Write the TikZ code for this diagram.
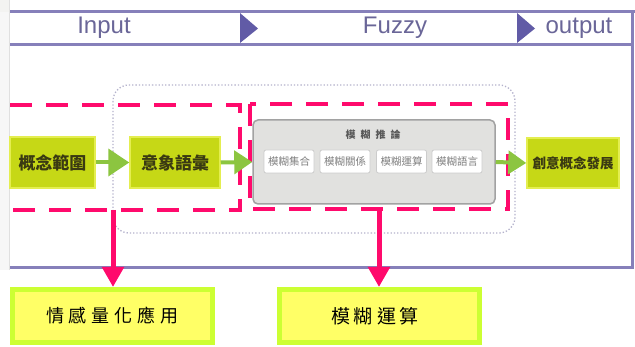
\documentclass[tikz,border=0pt]{standalone}
\usepackage{fontspec}
\setmainfont{Liberation Sans}
\newfontfamily\cjk{Noto Sans CJK TC}
\usetikzlibrary{arrows.meta}
\definecolor{hdr}{HTML}{8680BA}
\definecolor{hdrdark}{HTML}{615BA6}
\definecolor{hdrtext}{HTML}{6A6698}
\definecolor{pinkc}{HTML}{FF0A6C}
\definecolor{gfill}{HTML}{C6D816}
\definecolor{gedge}{HTML}{E4EE50}
\definecolor{gtext}{HTML}{3A3A12}
\definecolor{garrow}{HTML}{8CC540}
\definecolor{dotc}{HTML}{B4B2CC}
\definecolor{boxfill}{HTML}{E1E1DF}
\definecolor{boxedge}{HTML}{A2A2A2}
\definecolor{yfill}{HTML}{FFFF66}
\definecolor{yedge}{HTML}{CCFF33}
\tikzset{
  hdrline/.style={draw=hdr,line width=3.5pt},
  hdrtri/.style={fill=hdrdark},
  hdrlabel/.style={text=hdrtext,font=\fontsize{24}{26}\selectfont,inner sep=0pt},
  pinkbox/.style={draw=pinkc,line width=4.5pt,dash pattern=on 22pt off 14pt},
  pinkarrow/.style={draw=pinkc,line width=5pt,-{Triangle[width=21pt,length=20pt]}},
  greenbox/.style={fill=gfill,draw=gedge,line width=1.5pt,text=gtext,inner sep=0pt,
    font=\cjk\bfseries\fontsize{17}{19}\selectfont},
  garr/.style={draw=garrow,line width=4pt},
  minibox/.style={fill=white,draw=black!20,rounded corners=2pt,line width=0.8pt,
    minimum width=50pt,minimum height=23pt,inner sep=0pt,text=black!50,
    font=\cjk\fontsize{10.5}{12}\selectfont},
  ybox/.style={fill=yfill,draw=yedge,line width=5pt,inner sep=0pt,
    font=\cjk\fontsize{18}{20}\selectfont}
}
\begin{document}
\begin{tikzpicture}[x=1pt,y=-1pt]
\useasboundingbox (0,0) rectangle (635,347);
\fill[white] (0,0) rectangle (635,347);
% faint spreadsheet column at far left
\fill[black!3] (0,0) rectangle (9,270);
\fill[yellow!12!black!6] (0,0) rectangle (9,12);
\draw[black!12,line width=0.6pt] (9.5,0) -- (9.5,270);
% header band and frame
\draw[hdrline] (10,11.5) -- (635,11.5);
\draw[hdrline,line width=3pt] (10,44.5) -- (632,44.5);
\draw[hdrline,line width=3pt] (632,11.5) -- (632,269);
\draw[hdrline,line width=3pt] (10,268) -- (633.5,268);
\fill[hdrtri] (240,13) -- (258,28.5) -- (240,43) -- cycle;
\fill[hdrtri] (517,13) -- (535,28.5) -- (517,43) -- cycle;
\node[hdrlabel] (tin) at (104,28) {Input};
\node[hdrlabel] (tfz) at (395,28) {Fuzzy};
\node[hdrlabel] (tout) at (579,28) {output};
% dotted rounded region
\draw[dotc,line width=1.3pt,dotted,rounded corners=16pt] (113,85) rectangle (515,233);
% pink dashed boxes
\draw[pinkbox] (10,105) -- (240,105) -- (240,210) -- (10,210);
\draw[pinkbox] (250,104) rectangle (508,209);
\coordinate (p1) at (113,210);
\coordinate (p2) at (379,209);
% green nodes
\node[greenbox,minimum width=85pt,minimum height=51pt] (n1) at (52.5,162.5) {概念範圍};
\node[greenbox,minimum width=90pt,minimum height=51pt] (n2) at (175,162.5) {意象語彙};
\node[greenbox,minimum width=92pt,minimum height=50pt,font=\cjk\bfseries\fontsize{13.5}{15}\selectfont] (n4) at (573,163) {創意概念發展};
% fuzzy inference box
\node[fill=boxfill,draw=boxedge,line width=1.5pt,rounded corners=5pt,minimum width=242pt,minimum height=84pt,inner sep=0pt] (n3) at (374,162) {};
\node[text=black!65,font=\cjk\bfseries\fontsize{10}{12}\selectfont,inner sep=0pt] (n3t) at (373,135) {模\hspace{5pt}糊\hspace{5pt}推\hspace{5pt}論};
\node[minibox] (m1) at (289,161.5) {模糊集合};
\node[minibox] (m2) at (345,161.5) {模糊關係};
\node[minibox] (m3) at (401.5,161.5) {模糊運算};
\node[minibox] (m4) at (457,161.5) {模糊語言};
% green arrows
\draw[garr,-{Triangle[width=27pt,length=21pt]}] (n1.east) -- (n2.west);
\draw[garr,-{Triangle[width=23pt,length=18pt]}] (n2.east) -- (n3.west);
\draw[garr,-{Triangle[width=23pt,length=18pt]}] (n3.east) -- (n4.west);
% bottom boxes
\node[ybox,minimum width=200pt,minimum height=53pt] (b1) at (112.5,316) {情\hspace{5pt}感\hspace{5pt}量\hspace{5pt}化\hspace{5pt}應\hspace{5pt}用};
\node[ybox,minimum width=200pt,minimum height=53pt] (b2) at (379.5,316) {};
\node[font=\cjk\fontsize{19}{21}\selectfont,inner sep=0pt] (b2t) at (375,316) {模\hspace{4pt}糊\hspace{4pt}運\hspace{4pt}算};
% pink arrows
\draw[pinkarrow] (p1) -- (b1.north -| p1);
\draw[pinkarrow] (p2) -- (b2.north -| p2);
\end{tikzpicture}
\end{document}
